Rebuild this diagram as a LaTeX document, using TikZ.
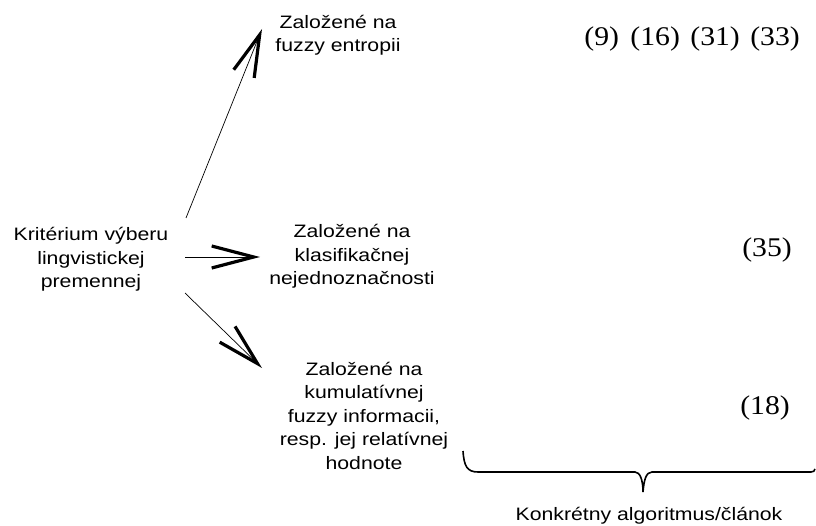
\documentclass[tikz,border=0pt]{standalone}
\usepackage{fontspec}
\setmainfont[FakeStretch=1.1]{Liberation Serif}
\newfontfamily\labfont[FakeStretch=1.18]{Liberation Sans}
\usetikzlibrary{arrows.meta}
\begin{document}
\begin{tikzpicture}[x=1pt,y=-1pt,
  label text/.style={font=\labfont\fontsize{18}{23.5}\selectfont, align=center, inner sep=0pt, anchor=base},
  ref text/.style={font=\fontsize{27}{30}\selectfont, inner sep=0pt, anchor=base east},
  arr/.style={line width=0.7pt, -{Straight Barb[length=42pt, width=22pt, line width=3.2pt]}},
  brace line/.style={line width=1.6pt}]
\useasboundingbox (0,0) rectangle (816,526);

% criterion and the three groups of methods (base = baseline of the last line)
\node[label text] (src) at (91,288) {Kritérium výberu\\lingvistickej\\premennej};
\node[label text] (top) at (338,52) {Založené na\\fuzzy entropii};
\node[label text] (mid) at (352,285) {Založené na\\klasifikačnej\\nejednoznačnosti};
\node[label text] (bot) at (364,469) {Založené na\\kumulatívnej\\fuzzy informacii,\\resp. jej relatívnej\\hodnote};

% references for each group
\node[ref text] (rtop) at (800,46) {(9)\hspace{4pt} (16)\hspace{3pt} (31)\hspace{3pt} (33)};
\node[ref text] (rmid) at (792,256.5) {(35)};
\node[ref text] (rbot) at (790,414.5) {(18)};

% arrows from the criterion
\coordinate (a1s) at (186,218);
\coordinate (a1e) at (262,29);
\coordinate (a2s) at (185,257);
\coordinate (a2e) at (260,257);
\coordinate (a3s) at (185,293);
\coordinate (a3e) at (262,368);
\draw[arr] (a1s) -- (a1e);
\draw[arr] (a2s) -- (a2e);
\draw[arr] (a3s) -- (a3e);

% brace over the reference column
\coordinate (bl) at (463,451);
\coordinate (btip) at (643,492);
\coordinate (br) at (815,469);
\draw[brace line] (bl) .. controls (464,466) and (467,472) .. (478,472)
  -- (635,472) .. controls (640,472) and (643,480) .. (btip)
  .. controls (644,480) and (646,472) .. (652,472)
  -- (811,472) .. controls (813,472) and (815,471) .. (br);
\node[label text] (blab) at (649,520) {Konkrétny algoritmus/článok};
\end{tikzpicture}
\end{document}
